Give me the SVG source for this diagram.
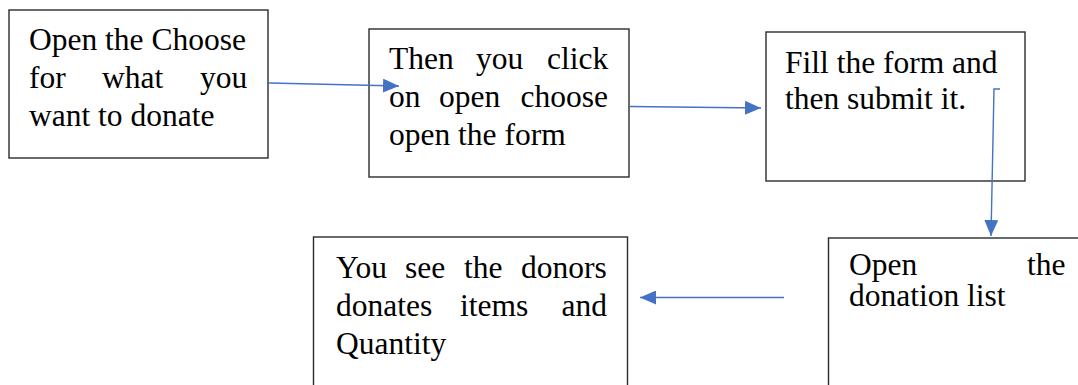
<svg xmlns="http://www.w3.org/2000/svg" width="1078" height="385" viewBox="0 0 1078 385">
<style>
.box{fill:#fff;stroke:#2b2b2b;stroke-width:1.4}
.t{font-family:'Liberation Serif','DejaVu Serif',serif;font-size:31.5px;fill:#000}
.c{fill:none;stroke:#4472C4;stroke-width:1.4}
</style>
<defs>
<marker id="ah" markerUnits="userSpaceOnUse" markerWidth="16" markerHeight="14" refX="16" refY="7" orient="auto">
<path d="M0,0 L16,7 L0,14 Z" fill="#4472C4"/>
</marker>
</defs>
<rect width="1078" height="385" fill="#fff"/>
<g id="node1" font-family="Liberation Serif, serif">
<rect class="box" x="9" y="10" width="259" height="148"/>
<text class="t" x="29" y="50">Open the Choose</text>
<text class="t" y="88"><tspan x="29">for</tspan> <tspan x="102">what</tspan> <tspan x="200">you</tspan></text>
<text class="t" x="29" y="126">want to donate</text>
</g>
<g id="node2">
<rect class="box" x="369" y="29" width="260" height="148"/>
<text class="t" y="69"><tspan x="389">Then</tspan> <tspan x="476">you</tspan> <tspan x="547">click</tspan></text>
<text class="t" y="107"><tspan x="389">on</tspan> <tspan x="439">open</tspan> <tspan x="520.5">choose</tspan></text>
<text class="t" x="389" y="145">open the form</text>
</g>
<g id="node3">
<rect class="box" x="766" y="32" width="259" height="149"/>
<text class="t" x="785" y="73">Fill the form and</text>
<text class="t" x="785" y="109">then submit it.</text>
</g>
<g id="node4">
<rect class="box" x="313.5" y="237" width="314" height="160"/>
<text class="t" y="278"><tspan x="336">You</tspan> <tspan x="405">see</tspan> <tspan x="464">the</tspan> <tspan x="521">donors</tspan></text>
<text class="t" y="316"><tspan x="336">donates</tspan> <tspan x="460">items</tspan> <tspan x="561.5">and</tspan></text>
<text class="t" x="336" y="354">Quantity</text>
</g>
<g id="node5">
<rect class="box" x="828.5" y="238" width="260" height="160"/>
<text class="t" y="275"><tspan x="849">Open</tspan> <tspan x="1027">the</tspan></text>
<text class="t" x="849" y="306">donation list</text>
</g>
<g id="connectors">
<path class="c" d="M269,83 L399,86" marker-end="url(#ah)"/>
<path class="c" d="M630,106.5 L761,108" marker-end="url(#ah)"/>
<path class="c" d="M1000,89 L994,89 L991,236" marker-end="url(#ah)"/>
<path class="c" d="M784,297.5 L640,297.5" marker-end="url(#ah)"/>
</g>
</svg>
